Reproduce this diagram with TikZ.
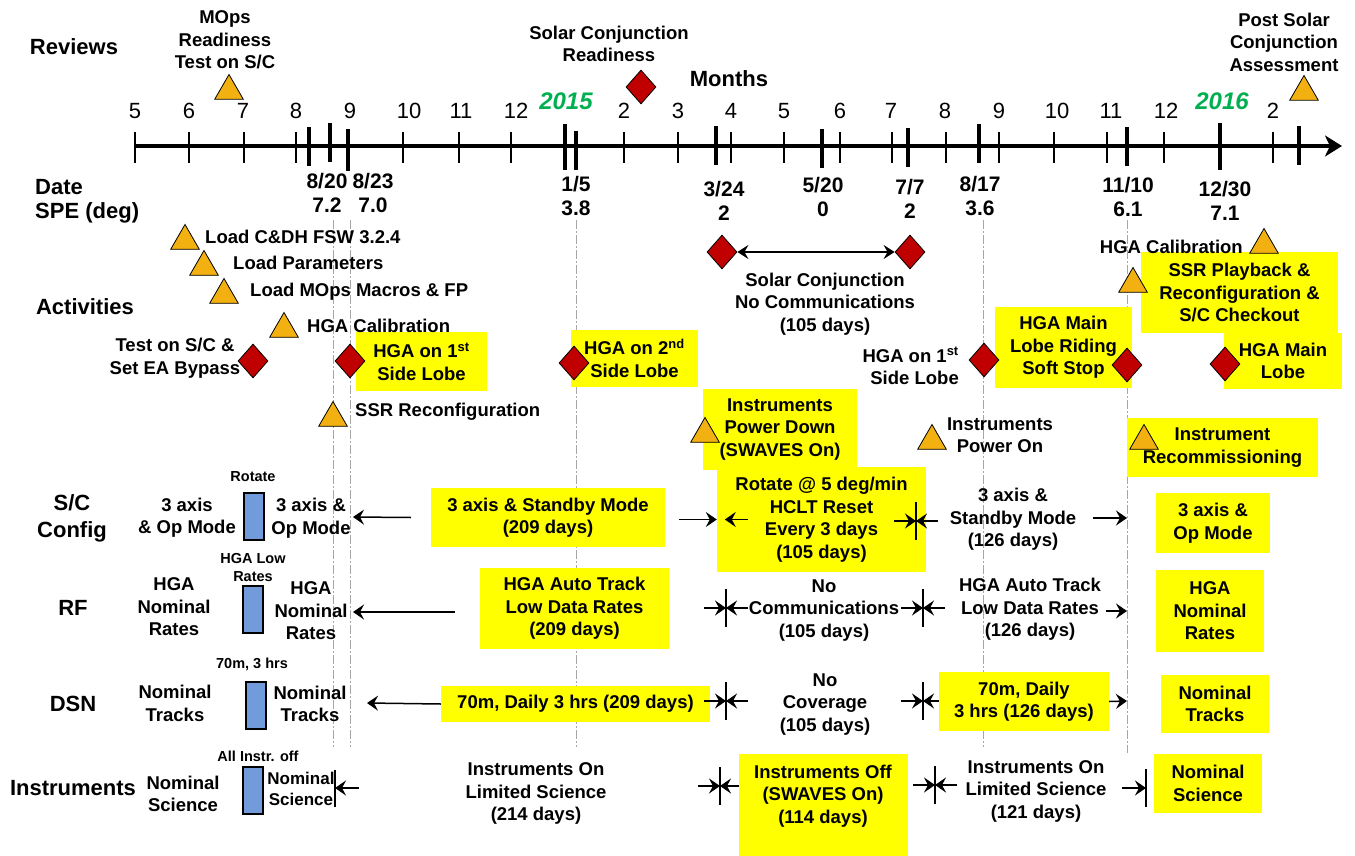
\documentclass[tikz,border=0pt]{standalone}
\usepackage{fontspec}
\setmainfont{Liberation Sans}
\usetikzlibrary{shapes.geometric,arrows.meta,positioning}
\definecolor{boxyellow}{HTML}{FFFF00}
\definecolor{markgold}{HTML}{F2B111}
\definecolor{markred}{HTML}{C00000}
\definecolor{barblue}{HTML}{729BDB}
\definecolor{yeargreen}{HTML}{00B050}
\definecolor{guidegray}{HTML}{A6A6A6}
% bar with two arrows pointing into it
\newcommand{\meetbar}[4]{%
  \coordinate (#1) at (#2,#3);
  \draw[barline] ([yshift=#4pt]#1) -- ([yshift=-#4pt]#1);
  \draw[arr] ([xshift=-22pt]#1) -- (#1);
  \draw[arr] ([xshift=22pt]#1) -- (#1);
}

\begin{document}
\begin{tikzpicture}[x=1pt, y=-1pt,
    hd/.style={font=\fontsize{22}{27}\selectfont\bfseries, align=center, inner sep=0pt},
    itm/.style={font=\fontsize{18.5}{22.5}\selectfont\bfseries, align=center, inner sep=0pt},
    sml/.style={font=\fontsize{14.5}{18}\selectfont\bfseries, align=center, inner sep=0pt},
    dt/.style={font=\fontsize{21}{24}\selectfont\bfseries, align=center, inner sep=0pt},
    mon/.style={font=\fontsize{22}{26}\selectfont, inner sep=0pt},
    yr/.style={font=\fontsize{24}{28}\selectfont\bfseries\itshape, text=yeargreen, inner sep=0pt},
    ybox/.style={itm, fill=boxyellow},
    ygtri/.style={regular polygon, regular polygon sides=3, minimum size=33pt, inner sep=0pt, fill=markgold, draw=black, line width=0.8pt},
    rdia/.style={diamond, minimum width=30pt, minimum height=34pt, inner sep=0pt, fill=markred, draw=black, line width=0.8pt},
    bluebar/.style={fill=barblue, draw=black, line width=1.5pt, inner sep=0pt, minimum width=20pt, minimum height=47pt},
    guide/.style={draw=guidegray, line width=0.7pt, dash pattern=on 9pt off 2pt on 2pt off 2pt},
    arr/.style={-{Stealth[length=11pt,width=15pt,inset=4pt]}, line width=1.5pt},
    arrboth/.style={{Stealth[length=11pt,width=14pt,inset=4pt]}-{Stealth[length=11pt,width=14pt,inset=4pt]}, line width=1.3pt},
    barline/.style={line width=1.5pt},
    mtick/.style={line width=2pt},
    dtick/.style={line width=4.5pt},
    axisln/.style={line width=3.5pt, -{Stealth[length=17pt,width=21pt,inset=5pt]}}]
  \useasboundingbox (0,0) rectangle (1355,856);

  % guide lines
  \foreach \gx/\gb in {333/747, 350/747, 576/747, 983/747, 1127/753}
    \draw[guide] (\gx,220) -- (\gx,\gb);

  % time axis
  \draw[axisln] (135,146) -- (1342,146);
  \foreach \tx in {135,189,244,296,403,459,511,624,678,731,784,840,892,946,999,1054,1107,1164,1273}
    \draw[mtick] (\tx,132) -- (\tx,163);
  \foreach \tx/\ta/\tb in {309/127/166, 330/123/162, 348/129/171, 565/124/170, 576/131/170, 716/126/165,
                           822/129/168, 908/128/167, 979/124/163, 1127/127/166, 1220/123/170, 1299/126/165}
    \draw[dtick] (\tx,\ta) -- (\tx,\tb);
  \foreach \mx/\mn in {135/5,189/6,243/7,296/8,350/9,409/10,461/11,516/12,624/2,678/3,731/4,784/5,
                       840/6,891/7,945/8,999/9,1057/10,1111/11,1166/12,1273/2}
    \node[mon] at (\mx,111) {\mn};
  \node[yr] (y15) at (566,101) {2015};
  \node[yr] (y16) at (1222,101) {2016};
  \node[hd] (months) at (729,79) {Months};

  % row headings
  \node[hd] (reviews) at (74,47) {Reviews};
  \node[hd, anchor=west] (date) at (35,187) {Date};
  \node[hd, anchor=west] (spe) at (35,213) {SPE (deg)};
  \node[hd] (acts) at (85,307) {Activities};
  \node[hd] (sccfg) at (72,518) {S/C\\Config};
  \node[hd] (rfhd) at (73,608) {RF};
  \node[hd] (dsnhd) at (73,704) {DSN};
  \node[hd] (insthd) at (73,788) {Instruments};

  % reviews
  \node[itm] (mopsrev) at (225,40) {MOps\\Readiness\\Test on S/C};
  \node[ygtri] (mopsT) at (229,91) {};
  \node[itm] (conjrev) at (609,44) {Solar Conjunction\\Readiness};
  \node[rdia] (conjrevD) at (641,87) {};
  \node[itm] (postrev) at (1284,42) {Post Solar\\Conjunction\\Assessment};
  \node[ygtri] (postT) at (1304,92) {};

  % dates and SPE
  \node[dt] (d820) at (327,193) {8/20\\7.2};
  \node[dt] (d823) at (373,193) {8/23\\7.0};
  \node[dt] (d105) at (576,196) {1/5\\3.8};
  \node[dt] (d324) at (724,201) {3/24\\2};
  \node[dt] (d520) at (823,197) {5/20\\0};
  \node[dt] (d707) at (910,199) {7/7\\2};
  \node[dt] (d817) at (980,196) {8/17\\3.6};
  \node[dt] (d1110) at (1128,197) {11/10\\6.1};
  \node[dt] (d1230) at (1225,201) {12/30\\7.1};

  % activities
  \node[ybox, minimum width=131pt, minimum height=59pt] (side1) at (421.5,361.5) {HGA on 1\textsuperscript{st}\\Side Lobe};
  \node[ybox, minimum width=127pt, minimum height=57pt] (side2) at (634.5,358.5) {HGA on 2\textsuperscript{nd}\\Side Lobe};
  \node[ybox, minimum width=154pt, minimum height=81pt] (pwrdn) at (780,429.5) {Instruments\\Power Down\\(SWAVES On)};
  \node[ybox, minimum width=137pt, minimum height=81pt] (riding) at (1063.5,347.5) {HGA Main\\Lobe Riding\\Soft Stop};
  \node[ybox, minimum width=197pt, minimum height=81pt] (ssrpb) at (1239.5,292.5) {SSR Playback \&\\Reconfiguration \&\\S/C Checkout};
  \node[ybox, minimum width=118pt, minimum height=56pt] (mainlobe) at (1283,361) {HGA Main\\Lobe};
  \node[ybox, minimum width=191pt, minimum height=59pt] (recomm) at (1222.5,447.5) {Instrument\\Recommissioning};

  \node[ygtri] (cdhT) at (185,241) {};
  \node[itm, anchor=west] (cdh) at (205,237) {Load C\&DH FSW 3.2.4};
  \node[ygtri] (parT) at (204,267) {};
  \node[itm, anchor=west] (par) at (233,263) {Load Parameters};
  \node[ygtri] (macT) at (224,295) {};
  \node[itm, anchor=west] (mac) at (250,292) {Load MOps Macros \& FP};
  \node[ygtri] (calT) at (284,329) {};
  \node[itm, anchor=west] (cal) at (307,326) {HGA Calibration};
  \node[itm] (bypass) at (175,358) {Test on S/C \&\\Set EA Bypass};
  \node[rdia] (bypassD) at (253,361) {};
  \node[rdia] (side1D) at (350,361) {};
  \node[ygtri] (ssrT) at (333,418) {};
  \node[itm, anchor=west] (ssr) at (355,412) {SSR Reconfiguration};
  \node[rdia] (side2D) at (574,363) {};

  \node[rdia] (conjA) at (722,252) {};
  \node[rdia] (conjB) at (910,252) {};
  \draw[arrboth] (conjA.east) -- (conjB.west);
  \node[itm] (conjtxt) at (825,304) {Solar Conjunction\\No Communications\\(105 days)};
  \node[ygtri] (pwrdnT) at (705,434) {};
  \node[ygtri] (pwronT) at (932,441) {};
  \node[itm] (pwron) at (1000,435) {Instruments\\Power On};
  \node[itm, align=right, anchor=east] (side1b) at (959,366) {HGA on 1\textsuperscript{st}\\Side Lobe};
  \node[rdia] (side1bD) at (984,360) {};
  \node[rdia] (ridingD) at (1127,365) {};
  \node[itm, anchor=east] (cal2) at (1243,247) {HGA Calibration};
  \node[ygtri] (cal2T) at (1264,245) {};
  \node[ygtri] (ssrpbT) at (1133,284) {};
  \node[rdia] (mainlobeD) at (1225,364) {};
  \node[ygtri] (recommT) at (1144,441) {};

  % S/C config
  \node[bluebar] (rotbar) at (254,516.5) {};
  \node[sml] (rotlbl) at (253,477) {Rotate};
  \node[itm] (scOpL) at (187,517.5) {3 axis\\\& Op Mode};
  \node[itm] (scOpR) at (311,518) {3 axis \&\\Op Mode};
  \node[ybox, minimum width=234pt, minimum height=59pt] (scStby) at (548,517.5) {3 axis \& Standby Mode\\(209 days)};
  \coordinate (scEnd) at (353,517);
  \draw[arr] ([xshift=-20pt]scStby.west) -- (scEnd);
  \node[ybox, minimum width=209pt, minimum height=105pt] (rotbox) at (821.5,519.5) {Rotate @ 5 deg/min\\HCLT Reset\\Every 3 days\\(105 days)};
  \draw[arr] ([xshift=-38pt]rotbox.west) -- (rotbox.west);
  \draw[arr] ([xshift=31pt]rotbox.west) -- ([xshift=8pt]rotbox.west);
  \meetbar{scB}{916}{521}{19}
  \node[itm] (scStby2) at (1013,519.5) {3 axis \&\\Standby Mode\\(126 days)};
  \coordinate (scEnd2) at (1127,518);
  \draw[arr] ([xshift=-34pt]scEnd2) -- (scEnd2);
  \node[ybox, minimum width=114pt, minimum height=60pt] (scOp) at (1213,523) {3 axis \&\\Op Mode};

  % RF
  \node[bluebar] (rfbar) at (253,609.5) {};
  \node[sml] (rflbl) at (253,568) {HGA Low\\Rates};
  \node[itm] (rfNomL) at (174,607) {HGA\\Nominal\\Rates};
  \node[itm] (rfNomR) at (311,611) {HGA\\Nominal\\Rates};
  \node[ybox, minimum width=189pt, minimum height=81pt] (rfAuto) at (574.5,608.5) {HGA Auto Track\\Low Data Rates\\(209 days)};
  \coordinate (rfEnd) at (353,612);
  \draw[arr] ([xshift=-25pt,yshift=-3.5pt]rfAuto.west) -- (rfEnd);
  \meetbar{rfA}{726}{608}{19}
  \node[itm] (rfNone) at (824,610.5) {No\\Communications\\(105 days)};
  \meetbar{rfB}{923}{608}{19}
  \node[itm] (rfAuto2) at (1030,609.5) {HGA Auto Track\\Low Data Rates\\(126 days)};
  \coordinate (rfEnd2) at (1127,611);
  \draw[arr] ([xshift=-21pt]rfEnd2) -- (rfEnd2);
  \node[ybox, minimum width=108pt, minimum height=82pt] (rfNom) at (1210,611) {HGA\\Nominal\\Rates};

  % DSN
  \node[bluebar] (dsnbar) at (256,705.5) {};
  \node[sml] (dsnlbl) at (252,664) {70m, 3 hrs};
  \node[itm] (dsnNomL) at (175,703.5) {Nominal\\Tracks};
  \node[itm] (dsnNomR) at (310,704) {Nominal\\Tracks};
  \node[ybox, minimum width=269pt, minimum height=36pt] (dsn209) at (575.5,704) {70m, Daily 3 hrs (209 days)};
  \coordinate (dsnEnd) at (367,703);
  \draw[arr] (dsn209.west) -- (dsnEnd);
  \meetbar{dsnA}{726}{701}{19}
  \node[itm] (dsnNone) at (825,704.5) {No\\Coverage\\(105 days)};
  \meetbar{dsnB}{923}{701}{19}
  \node[ybox, minimum width=170pt, minimum height=59pt] (dsn126) at (1024,701.5) {70m, Daily\\3 hrs (126 days)};
  \coordinate (dsnEnd2) at (1127,701);
  \draw[arr] (dsn126.east) -- (dsnEnd2);
  \node[ybox, minimum width=108pt, minimum height=58pt] (dsnNom) at (1215,704) {Nominal\\Tracks};

  % instruments
  \node[bluebar] (insbar) at (253,790.5) {};
  \node[sml] (inslbl) at (258,756) {All Instr. off};
  \node[itm] (insNomL) at (183,794) {Nominal\\Science};
  \node[itm, font=\fontsize{17}{21}\selectfont\bfseries] (insNomR) at (301,789) {Nominal\\Science};
  \coordinate (insBarL) at (335,788);
  \draw[barline] ([yshift=18pt]insBarL) -- ([yshift=-19pt]insBarL);
  \draw[arr] ([xshift=24pt]insBarL) -- (insBarL);
  \node[itm] (insLim) at (536,793.5) {Instruments On\\Limited Science\\(214 days)};
  \meetbar{insA}{720}{786}{19}
  \node[ybox, minimum width=169pt, minimum height=102pt] (insOff) at (823.5,805) {};
  \node[itm] (insOffTxt) at (823,796) {Instruments Off\\(SWAVES On)\\(114 days)};
  \meetbar{insB}{935}{785}{19}
  \node[itm] (insLim2) at (1036,791) {Instruments On\\Limited Science\\(121 days)};
  \coordinate (insBarR) at (1146,788);
  \draw[barline] ([yshift=19pt]insBarR) -- ([yshift=-19pt]insBarR);
  \draw[arr] ([xshift=-24pt]insBarR) -- (insBarR);
  \node[ybox, minimum width=108pt, minimum height=59pt] (insNom) at (1208,783.5) {Nominal\\Science};
\end{tikzpicture}
\end{document}
